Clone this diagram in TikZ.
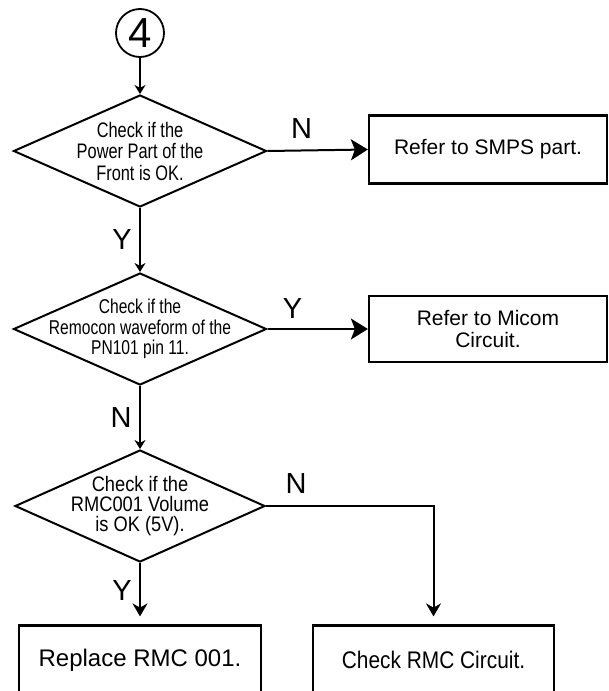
\documentclass[tikz,border=0pt]{standalone}
\usepackage{fontspec}
\setmainfont{Liberation Sans}
\newfontfamily\narrowA[FakeStretch=0.78]{Liberation Sans}
\newfontfamily\narrowB[FakeStretch=0.87]{Liberation Sans}
\usetikzlibrary{shapes.geometric,arrows.meta}

\begin{document}
\begin{tikzpicture}[x=1pt,y=-1pt]
	\tikzset{
		decision/.style={diamond,draw,line width=2pt,minimum width=253pt,minimum height=112pt,inner sep=0pt},
		dtext/.style={align=center,inner sep=0pt,font=\narrowA\fontsize{21}{21.5}\selectfont},
		box/.style={draw,line width=2.2pt,minimum width=238pt,minimum height=68pt,align=center,font=\fontsize{21}{22}\selectfont},
		yn/.style={font=\fontsize{29}{29}\selectfont},
		flow/.style={line width=2pt,-{Stealth[length=9pt,width=11pt]}},
		midflow/.style={line width=2pt,-{Stealth[length=13pt,width=15pt]},shorten >=8pt},
		bigflow/.style={line width=2pt,-{Stealth[length=17pt,width=21pt,inset=4pt]}}
	}
	\useasboundingbox (0,0) rectangle (609,691);

	\node[circle,draw,line width=1.8pt,minimum size=48pt,inner sep=0pt,font=\fontsize{42}{42}\selectfont](c4) at (140,33) {4};

	\node[decision](d1) at (140,151) {};
	\node[dtext](t1) at (d1) {Check if the\\Power Part of the\\Front is OK.};
	\node[decision](d2) at (140,329) {};
	\node[dtext,font=\narrowA\fontsize{20}{20.5}\selectfont](t2) at (d2) {Check if the\\Remocon waveform of the\\PN101 pin 11.};
	\node[decision,minimum width=250pt](d3) at (140,506) {};
	\node[dtext,font=\narrowB\fontsize{21}{20}\selectfont](t3) at (d3) {Check if the\\RMC001 Volume\\is OK (5V).};

	\node[box](r1) at (488,149.5) {Refer to SMPS part.};
	\node[box,minimum height=66pt](r2) at (488,329) {Refer to Micom\\Circuit.};
	\node[box,minimum width=242pt,minimum height=69pt,font=\fontsize{24}{24}\selectfont](r3) at (140,660) {Replace RMC 001.};
	\node[box,minimum width=241pt,minimum height=69pt,font=\narrowB\fontsize{24}{24}\selectfont](r4) at (433.5,660) {Check RMC Circuit.};

	\draw[flow] (c4.south) -- (d1.north);
	\draw[bigflow] (d1.east) -- (r1.west) node[yn,pos=0.34,above=8pt]{N};
	\draw[flow] (d1.south) -- (d2.north) node[yn,midway,left=4pt]{Y};
	\draw[bigflow] (d2.east) -- (r2.west) node[yn,pos=0.25,above=6pt]{Y};
	\draw[flow] (d2.south) -- (d3.north) node[yn,midway,left=4pt]{N};
	\draw[midflow] (d3.south) -- (r3.north) node[yn,pos=0.45,left=4pt]{Y};
	\draw[midflow] (d3.east) -| (r4.north) node[yn,pos=0.09,above=8pt]{N};
\end{tikzpicture}
\end{document}
